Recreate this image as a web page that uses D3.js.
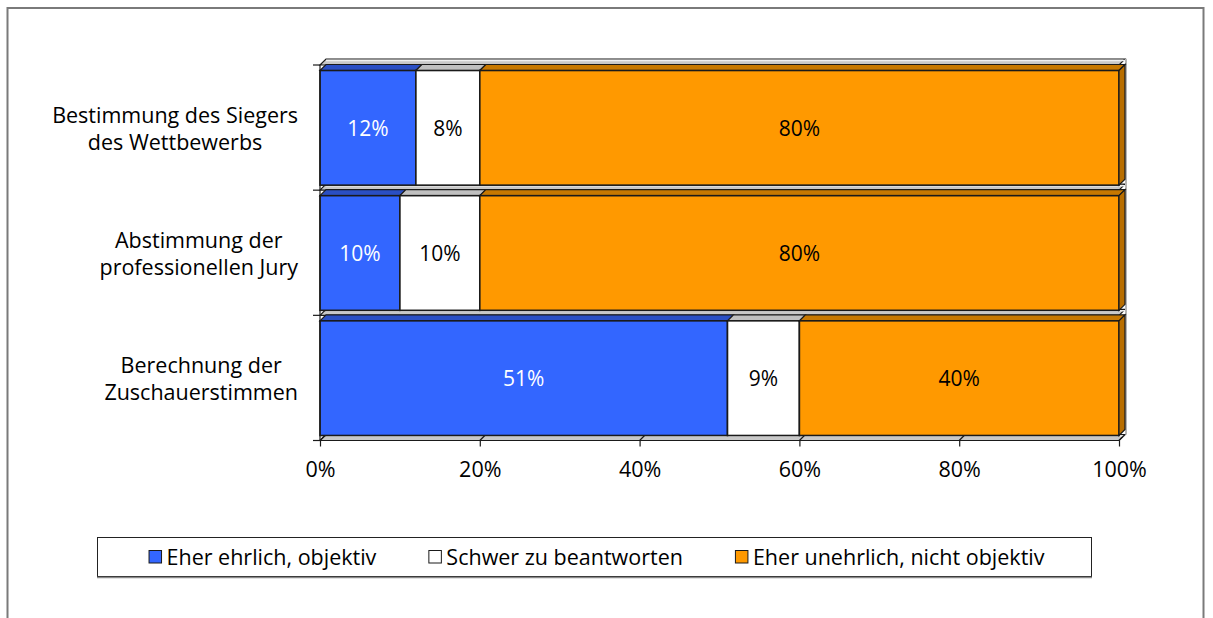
<!DOCTYPE html>
<html>
<head>
<meta charset="utf-8">
<script src="https://cdn.jsdelivr.net/npm/d3@7"></script>
<style>
  html, body { margin: 0; padding: 0; background: #fff; }
  svg { display: block; }
  text { font-family: "Open Sans", "Noto Sans", sans-serif; fill: #000; }
</style>
</head>
<body>
<svg id="chart" width="1213" height="618"></svg>
<script>
// Survey answers: share of respondents per rating, one entry per voting stage
const categories = [
  ["Bestimmung des Siegers", "des Wettbewerbs"],
  ["Abstimmung der", "professionellen Jury"],
  ["Berechnung der", "Zuschauerstimmen"]
];
const seriesNames = ["Eher ehrlich, objektiv", "Schwer zu beantworten", "Eher unehrlich, nicht objektiv"];
const honest    = [12, 10, 51];
const unsure    = [8, 10, 9];
const dishonest = [80, 80, 40];
const xTicks = [0, 20, 40, 60, 80, 100];

const colors = ["#3366ff", "#ffffff", "#ff9900"];
const topColors = ["#2a4fc4", "#c0c0c0", "#c77800"];
const sideColors = ["#2a4fc4", "#b0b0b0", "#b86e00"];
const labelColors = ["#ffffff", "#000000", "#000000"];
const FONT = "21.5px";

const svg = d3.select("#chart");
const DX = 6, DY = -6;   // depth offset of the 3D extrusion

// outer frame
svg.append("rect")
  .attr("x", 7.5).attr("y", 8).attr("width", 1196).attr("height", 640)
  .attr("fill", "none").attr("stroke", "#7a7a7a").attr("stroke-width", 2);

const x = d3.scaleLinear().domain([0, 100]).range([320, 1119]);
const y = d3.scaleBand().domain(d3.range(categories.length)).range([65, 440.5]);
const bw = y.bandwidth();

const rows = categories.map((c, i) => {
  const vals = [honest[i], unsure[i], dishonest[i]];
  let acc = 0;
  return { i, segs: vals.map((v, k) => { const s = { k, v, x0: acc, x1: acc + v }; acc += v; return s; }) };
});

const poly = pts => pts.map(p => p.join(",")).join(" ");

// gray 3D slabs along the category boundaries
const edges = d3.range(categories.length + 1).map(i => i < categories.length ? y(i) : y(i - 1) + bw);
const g = svg.append("g");
edges.forEach(yb => {
  g.append("polygon")
    .attr("points", poly([[x(0), yb], [x(100), yb], [x(100) + DX, yb + DY], [x(0) + DX, yb + DY]]))
    .attr("fill", "#c8c8c8").attr("stroke", "#1a1a1a").attr("stroke-width", 1.2);
  g.append("line")
    .attr("x1", x(0) + DX).attr("x2", x(100) + DX)
    .attr("y1", yb + DY + 1.5).attr("y2", yb + DY + 1.5)
    .attr("stroke", "#efefef").attr("stroke-width", 1.5);
});
// floor depth lines at the x ticks
xTicks.forEach(t => {
  g.append("line")
    .attr("x1", x(t)).attr("y1", edges[edges.length - 1])
    .attr("x2", x(t) + DX).attr("y2", edges[edges.length - 1] + DY)
    .attr("stroke", "#1a1a1a").attr("stroke-width", 1.2);
});
// right back edge
g.append("line")
  .attr("x1", x(100) + DX + 1).attr("x2", x(100) + DX + 1)
  .attr("y1", edges[0] + DY).attr("y2", edges[edges.length - 1] + DY)
  .attr("stroke", "#b5b5b5").attr("stroke-width", 2);

// stacked 3D bars
const bars = svg.append("g");
rows.forEach(r => {
  const yt = y(r.i) + 5.5, yb = y(r.i) + bw - 5;
  r.segs.forEach(s => {
    const x0 = x(s.x0), x1 = x(s.x1);
    bars.append("polygon")
      .attr("points", poly([[x0, yt], [x1, yt], [x1 + DX, yt + DY], [x0 + DX, yt + DY]]))
      .attr("fill", topColors[s.k]).attr("stroke", "#1a1a1a").attr("stroke-width", 1.2);
    bars.append("rect")
      .attr("x", x0).attr("y", yt).attr("width", x1 - x0).attr("height", yb - yt)
      .attr("fill", colors[s.k]).attr("stroke", "#1a1a1a").attr("stroke-width", 1.6);
    if (s.k === r.segs.length - 1) {
      bars.append("polygon")
        .attr("points", poly([[x1, yt], [x1 + DX, yt + DY], [x1 + DX, yb + DY], [x1, yb]]))
        .attr("fill", sideColors[s.k]).attr("stroke", "#1a1a1a").attr("stroke-width", 1.2);
    }
    bars.append("text")
      .attr("x", (x0 + x1) / 2).attr("y", (yt + yb) / 2)
      .attr("text-anchor", "middle").attr("dominant-baseline", "central")
      .style("font-size", "21px").style("fill", labelColors[s.k])
      .text(s.v + "%");
  });
});

// left axis with ticks at category boundaries
const ax = svg.append("g");
ax.append("line").attr("x1", x(0)).attr("x2", x(0))
  .attr("y1", edges[0]).attr("y2", edges[edges.length - 1])
  .attr("stroke", "#1a1a1a").attr("stroke-width", 1.2);
edges.forEach(yb => {
  ax.append("line").attr("x1", x(0) - 7).attr("x2", x(0)).attr("y1", yb).attr("y2", yb)
    .attr("stroke", "#1a1a1a").attr("stroke-width", 1.2);
});

// bottom axis
const xAxis = d3.axisBottom(x).tickValues(xTicks).tickFormat(d => d + "%").tickSize(6).tickPadding(15);
const xg = svg.append("g").attr("transform", `translate(0,${edges[edges.length - 1]})`).call(xAxis);
xg.select(".domain").remove();
xg.selectAll(".tick line").attr("stroke", "#1a1a1a").attr("stroke-width", 1.2);
xg.selectAll(".tick text").style("font-size", FONT).style("font-family", '"Open Sans", sans-serif').attr("fill", "#000");

// category labels (two centred lines each)
const cl = svg.append("g");
categories.forEach((lines, i) => {
  const cy = y(i) + bw / 2;
  const grp = cl.append("g");
  const ts = lines.map((t, j) => grp.append("text")
    .attr("y", cy + (j - 0.5) * 27).attr("dominant-baseline", "central")
    .attr("text-anchor", "middle").style("font-size", FONT).text(t));
  const w = d3.max(ts, t => t.node().getComputedTextLength());
  ts.forEach(t => t.attr("x", 298 - w / 2));
});

// legend
const lg = svg.append("g");
lg.append("rect").attr("x", 97.5).attr("y", 537.5).attr("width", 994).attr("height", 39)
  .attr("fill", "#fff").attr("stroke", "#222").attr("stroke-width", 1);
lg.append("line").attr("x1", 97).attr("x2", 1092).attr("y1", 577.5).attr("y2", 577.5)
  .attr("stroke", "#8a8a8a").attr("stroke-width", 1.5);
const items = seriesNames.map((n, k) => {
  const it = lg.append("g");
  it.append("rect").attr("x", 0.5).attr("y", 550.5).attr("width", 12.5).attr("height", 12.5)
    .attr("fill", colors[k]).attr("stroke", "#1a1a1a").attr("stroke-width", 1);
  const t = it.append("text").attr("x", 18).attr("y", 556.5).attr("dominant-baseline", "central")
    .style("font-size", FONT).text(n);
  return { it, w: 18 + t.node().getComputedTextLength() };
});
const gap = 52;
const total = d3.sum(items, d => d.w) + gap * (items.length - 1);
let cx = 97 + (995 - total) / 2 + 2;
items.forEach(d => { d.it.attr("transform", `translate(${cx},0)`); cx += d.w + gap; });
</script>
</body>
</html>
